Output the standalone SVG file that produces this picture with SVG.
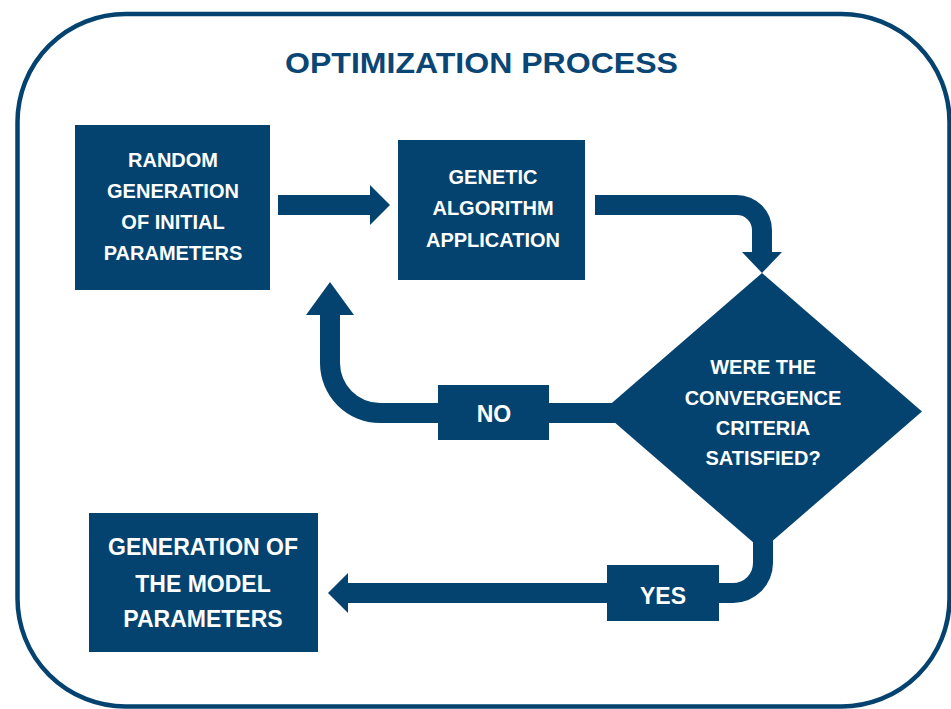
<svg xmlns="http://www.w3.org/2000/svg" width="951" height="709" viewBox="0 0 951 709">
<style>
.box{fill:#04436F}
.conn{fill:#04436F}
.t{font-family:"Liberation Sans",Arial,sans-serif;font-weight:bold;fill:#FFFFFF;text-anchor:middle}
.title{font-family:"Liberation Sans",Arial,sans-serif;font-weight:bold;fill:#0A4675;text-anchor:middle;font-size:30px}
</style>
<rect width="951" height="709" fill="#FFFFFF"/>
<rect x="17.5" y="14" width="932" height="692.5" rx="108" ry="108" fill="none" stroke="#04436F" stroke-width="4.5"/>
<text class="title" x="481.5" y="73" textLength="393" lengthAdjust="spacingAndGlyphs">OPTIMIZATION PROCESS</text>

<g id="connectors">
  <path class="conn" d="M278,195 H370 V185 L390,205 L370,225 V215 H278 Z"/>
  <path class="conn" d="M595,195 H737 A35,35 0 0 1 772,230 V252 H782 L762,273 L742,252 H752 V230 A15,15 0 0 0 737,215 H595 Z"/>
  <path class="conn" d="M615,403 H380 A40,40 0 0 1 340,363 V315 H354 L330,282 L306,315 H320 V363 A60,60 0 0 0 380,423 H615 Z"/>
  <path class="conn" d="M753,535 V563 A20,20 0 0 1 733,583 H348 V573 L328,593 L348,613 V603 H733 A40,40 0 0 0 773,563 V535 Z"/>
  <g id="label-no">
    <rect class="box" x="438" y="385" width="111" height="55"/>
    <text class="t" x="494" y="422" font-size="23">NO</text>
  </g>
  <g id="label-yes">
    <rect class="box" x="607" y="565" width="112" height="56"/>
    <text class="t" x="663" y="604" font-size="23">YES</text>
  </g>
</g>

<g id="node-random">
  <rect class="box" x="75" y="125" width="195" height="165"/>
  <text class="t" font-size="20" x="173" y="167">RANDOM</text>
  <text class="t" font-size="20" x="173" y="198">GENERATION</text>
  <text class="t" font-size="20" x="173" y="229">OF INITIAL</text>
  <text class="t" font-size="20" x="173" y="260">PARAMETERS</text>
</g>

<g id="node-genetic">
  <rect class="box" x="398" y="140" width="187" height="140"/>
  <text class="t" font-size="20" x="493" y="184">GENETIC</text>
  <text class="t" font-size="20" x="493" y="215">ALGORITHM</text>
  <text class="t" font-size="20" x="493" y="247">APPLICATION</text>
</g>

<g id="node-decision">
  <polygon class="box" points="762,273 922,411.5 762,550 602,411.5"/>
  <text class="t" font-size="20" x="763" y="374">WERE THE</text>
  <text class="t" font-size="20" x="763" y="405">CONVERGENCE</text>
  <text class="t" font-size="20" x="763" y="435">CRITERIA</text>
  <text class="t" font-size="20" x="763" y="465">SATISFIED?</text>
</g>

<g id="node-model">
  <rect class="box" x="89" y="513" width="229" height="139"/>
  <text class="t" font-size="23" x="203" y="555">GENERATION OF</text>
  <text class="t" font-size="23" x="203" y="592">THE MODEL</text>
  <text class="t" font-size="23" x="203" y="627">PARAMETERS</text>
</g>
</svg>
